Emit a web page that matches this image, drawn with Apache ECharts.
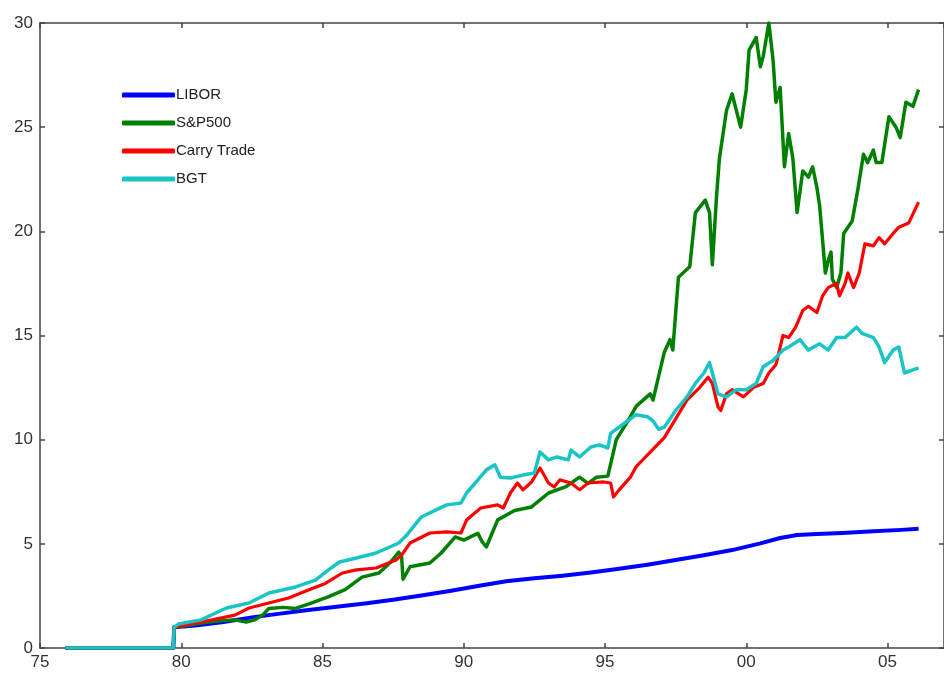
<!DOCTYPE html>
<html>
<head>
<meta charset="utf-8">
<script src="https://cdn.jsdelivr.net/npm/echarts@6/dist/echarts.min.js"></script>
<style>
html,body{margin:0;padding:0;background:#fff;overflow:hidden;}
#chart{width:944px;height:675px;}
</style>
</head>
<body>
<div id="chart"></div>
<script>
const seriesNames = ['LIBOR', 'S&P500', 'Carry Trade', 'BGT'];
const xTickLabels = ['75', '80', '85', '90', '95', '00', '05'];
const yTickValues = [0, 5, 10, 15, 20, 25, 30];

const libor = [[1975.9,0],[1979.72,0],[1979.75,1.0],[1980.5,1.08],[1981.5,1.25],[1982.5,1.47],[1983.5,1.65],[1984.5,1.82],[1985.5,1.98],[1986.5,2.14],[1987.5,2.32],[1988.5,2.52],[1989.5,2.74],[1990.5,2.98],[1991.5,3.2],[1992.5,3.35],[1993.5,3.47],[1994.5,3.62],[1995.5,3.8],[1996.5,4.0],[1997.5,4.22],[1998.5,4.45],[1999.5,4.7],[2000.5,5.02],[2001.2,5.28],[2001.8,5.42],[2002.5,5.47],[2003.4,5.52],[2004.5,5.6],[2005.5,5.67],[2006.1,5.72]];

const sp500 = [[1975.9,0],[1979.72,0],[1979.75,1.0],[1980.3,1.1],[1980.7,1.2],[1981.3,1.3],[1981.9,1.35],[1982.3,1.25],[1982.6,1.35],[1982.9,1.6],[1983.1,1.9],[1983.6,1.95],[1984.05,1.9],[1984.6,2.15],[1985.2,2.45],[1985.8,2.8],[1986.4,3.4],[1987.0,3.6],[1987.4,4.1],[1987.7,4.6],[1987.8,4.4],[1987.85,3.3],[1988.1,3.9],[1988.8,4.08],[1989.2,4.56],[1989.7,5.33],[1990.0,5.18],[1990.5,5.5],[1990.65,5.1],[1990.8,4.85],[1991.2,6.15],[1991.8,6.6],[1992.4,6.77],[1993.0,7.44],[1993.6,7.73],[1994.1,8.2],[1994.4,7.9],[1994.7,8.2],[1995.1,8.25],[1995.4,10.0],[1995.9,11.1],[1996.1,11.6],[1996.6,12.2],[1996.7,11.9],[1997.1,14.2],[1997.3,14.8],[1997.4,14.3],[1997.6,17.8],[1998.0,18.3],[1998.2,20.9],[1998.55,21.5],[1998.7,20.9],[1998.8,18.4],[1998.95,21.7],[1999.05,23.5],[1999.3,25.8],[1999.5,26.6],[1999.8,25.0],[2000.0,26.8],[2000.1,28.7],[2000.35,29.3],[2000.5,27.9],[2000.6,28.4],[2000.8,30.0],[2000.95,28.2],[2001.05,26.2],[2001.2,26.9],[2001.35,23.1],[2001.5,24.7],[2001.65,23.5],[2001.8,20.9],[2002.0,22.9],[2002.2,22.6],[2002.35,23.1],[2002.5,22.1],[2002.6,21.2],[2002.7,19.6],[2002.8,18.0],[2002.9,18.6],[2003.0,19.0],[2003.05,17.7],[2003.2,17.3],[2003.35,18.0],[2003.45,19.9],[2003.75,20.5],[2003.95,22.0],[2004.15,23.7],[2004.3,23.3],[2004.5,23.9],[2004.6,23.3],[2004.8,23.3],[2005.05,25.5],[2005.3,25.0],[2005.45,24.5],[2005.65,26.2],[2005.9,26.0],[2006.1,26.8]];

const carryTrade = [[1975.9,0],[1979.72,0],[1979.75,1.0],[1980.7,1.25],[1981.9,1.58],[1982.4,1.92],[1983.1,2.16],[1983.8,2.4],[1984.5,2.78],[1985.1,3.1],[1985.7,3.6],[1986.2,3.75],[1986.9,3.84],[1987.6,4.22],[1987.8,4.46],[1988.1,5.04],[1988.8,5.52],[1989.4,5.57],[1989.9,5.52],[1990.1,6.14],[1990.6,6.72],[1991.2,6.87],[1991.4,6.72],[1991.65,7.44],[1991.9,7.92],[1992.1,7.59],[1992.4,7.97],[1992.7,8.64],[1993.0,7.92],[1993.2,7.73],[1993.4,8.07],[1993.8,7.92],[1994.1,7.59],[1994.4,7.92],[1994.95,7.97],[1995.2,7.92],[1995.3,7.25],[1995.5,7.59],[1995.9,8.2],[1996.1,8.7],[1996.6,9.4],[1997.1,10.1],[1997.5,11.0],[1997.9,11.9],[1998.35,12.5],[1998.65,13.0],[1998.8,12.7],[1999.0,11.57],[1999.1,11.4],[1999.3,12.2],[1999.5,12.4],[1999.9,12.05],[2000.25,12.5],[2000.6,12.7],[2000.8,13.2],[2001.05,13.6],[2001.3,15.0],[2001.5,14.9],[2001.75,15.4],[2002.0,16.2],[2002.2,16.4],[2002.5,16.1],[2002.7,16.9],[2002.9,17.3],[2003.2,17.5],[2003.3,16.9],[2003.5,17.5],[2003.6,18.0],[2003.8,17.3],[2004.0,18.0],[2004.2,19.4],[2004.5,19.3],[2004.7,19.7],[2004.9,19.4],[2005.2,19.9],[2005.4,20.2],[2005.75,20.4],[2006.1,21.4]];

const bgt = [[1975.9,0],[1979.72,0],[1979.75,1.0],[1979.9,1.15],[1980.7,1.35],[1981.6,1.92],[1982.4,2.16],[1983.1,2.64],[1984.05,2.93],[1984.75,3.26],[1985.2,3.74],[1985.6,4.13],[1986.2,4.32],[1986.9,4.56],[1987.7,5.04],[1988.0,5.45],[1988.5,6.29],[1989.0,6.62],[1989.4,6.87],[1989.9,6.96],[1990.1,7.44],[1990.5,8.07],[1990.8,8.55],[1991.1,8.79],[1991.3,8.2],[1991.65,8.16],[1992.1,8.3],[1992.5,8.4],[1992.7,9.41],[1993.0,9.03],[1993.3,9.17],[1993.7,9.03],[1993.8,9.5],[1994.1,9.17],[1994.5,9.65],[1994.8,9.75],[1995.1,9.6],[1995.2,10.3],[1995.7,10.8],[1996.1,11.2],[1996.5,11.1],[1996.7,10.9],[1996.9,10.5],[1997.1,10.6],[1997.5,11.4],[1997.9,12.05],[1998.2,12.7],[1998.5,13.2],[1998.7,13.7],[1998.8,13.2],[1999.0,12.2],[1999.3,12.05],[1999.65,12.4],[2000.0,12.4],[2000.35,12.7],[2000.6,13.5],[2000.95,13.8],[2001.3,14.3],[2001.5,14.45],[2001.9,14.8],[2002.2,14.3],[2002.6,14.6],[2002.9,14.3],[2003.2,14.9],[2003.5,14.9],[2003.9,15.4],[2004.1,15.1],[2004.5,14.9],[2004.7,14.45],[2004.9,13.7],[2005.2,14.3],[2005.4,14.45],[2005.6,13.2],[2005.9,13.35],[2006.1,13.45]];

const seriesData = [libor, sp500, carryTrade, bgt];
const seriesColors = ['#0000ff', '#008000', '#ff0000', '#19c4c4'];
const seriesWidths = [4, 3.5, 3.2, 3.5];

const axisColor = '#444';
const labelFont = {fontFamily: 'Liberation Sans, Arial, sans-serif', fontSize: 17, color: '#333'};

const chart = echarts.init(document.getElementById('chart'), null, {renderer: 'canvas'});

const xBase = {
  type: 'value', min: 1975, max: 2007, interval: 5,
  axisLine: {show: true, onZero: false, lineStyle: {color: axisColor, width: 1.5}},
  axisTick: {show: true, inside: true, length: 5, lineStyle: {color: axisColor, width: 1.5}},
  splitLine: {show: false}
};
const yBase = {
  type: 'value', min: 0, max: 30, interval: 5,
  axisLine: {show: true, onZero: false, lineStyle: {color: axisColor, width: 1.5}},
  axisTick: {show: true, inside: true, length: 5, lineStyle: {color: axisColor, width: 1.5}},
  splitLine: {show: false}
};

chart.setOption({
  animation: false,
  backgroundColor: '#fff',
  grid: {left: 40, top: 23, width: 909, height: 625, containLabel: false},
  legend: {
    orient: 'vertical', left: 117, top: 82,
    itemWidth: 53, itemHeight: 5, itemGap: 12,
    icon: 'roundRect',
    textStyle: {fontFamily: 'Liberation Sans, Arial, sans-serif', fontSize: 15, color: '#222', lineHeight: 16, padding: [0, 0, 0, -4]},
    data: seriesNames
  },
  xAxis: [
    Object.assign({}, xBase, {
      position: 'bottom',
      axisLabel: Object.assign({
        show: true, margin: 6, showMaxLabel: false,
        formatter: v => { const i = Math.round((v - 1975) / 5); return (Math.abs(v - (1975 + 5 * i)) < 1e-6 && xTickLabels[i] !== undefined) ? xTickLabels[i] : ''; }
      }, labelFont)
    }),
    Object.assign({}, xBase, {position: 'top', axisLabel: {show: false}})
  ],
  yAxis: [
    Object.assign({}, yBase, {
      position: 'left',
      axisLabel: Object.assign({show: true, margin: 7,
        formatter: v => yTickValues.indexOf(v) >= 0 ? String(v) : ''}, labelFont)
    }),
    Object.assign({}, yBase, {position: 'right', axisLabel: {show: false}})
  ],
  series: seriesNames.map((name, i) => ({
    name: name,
    type: 'line',
    xAxisIndex: 0, yAxisIndex: 0,
    data: seriesData[i],
    showSymbol: false,
    symbol: 'none',
    color: seriesColors[i],
    lineStyle: {color: seriesColors[i], width: seriesWidths[i], join: 'round'},
    itemStyle: {color: seriesColors[i]},
    z: 2 + i
  }))
});
</script>
</body>
</html>
